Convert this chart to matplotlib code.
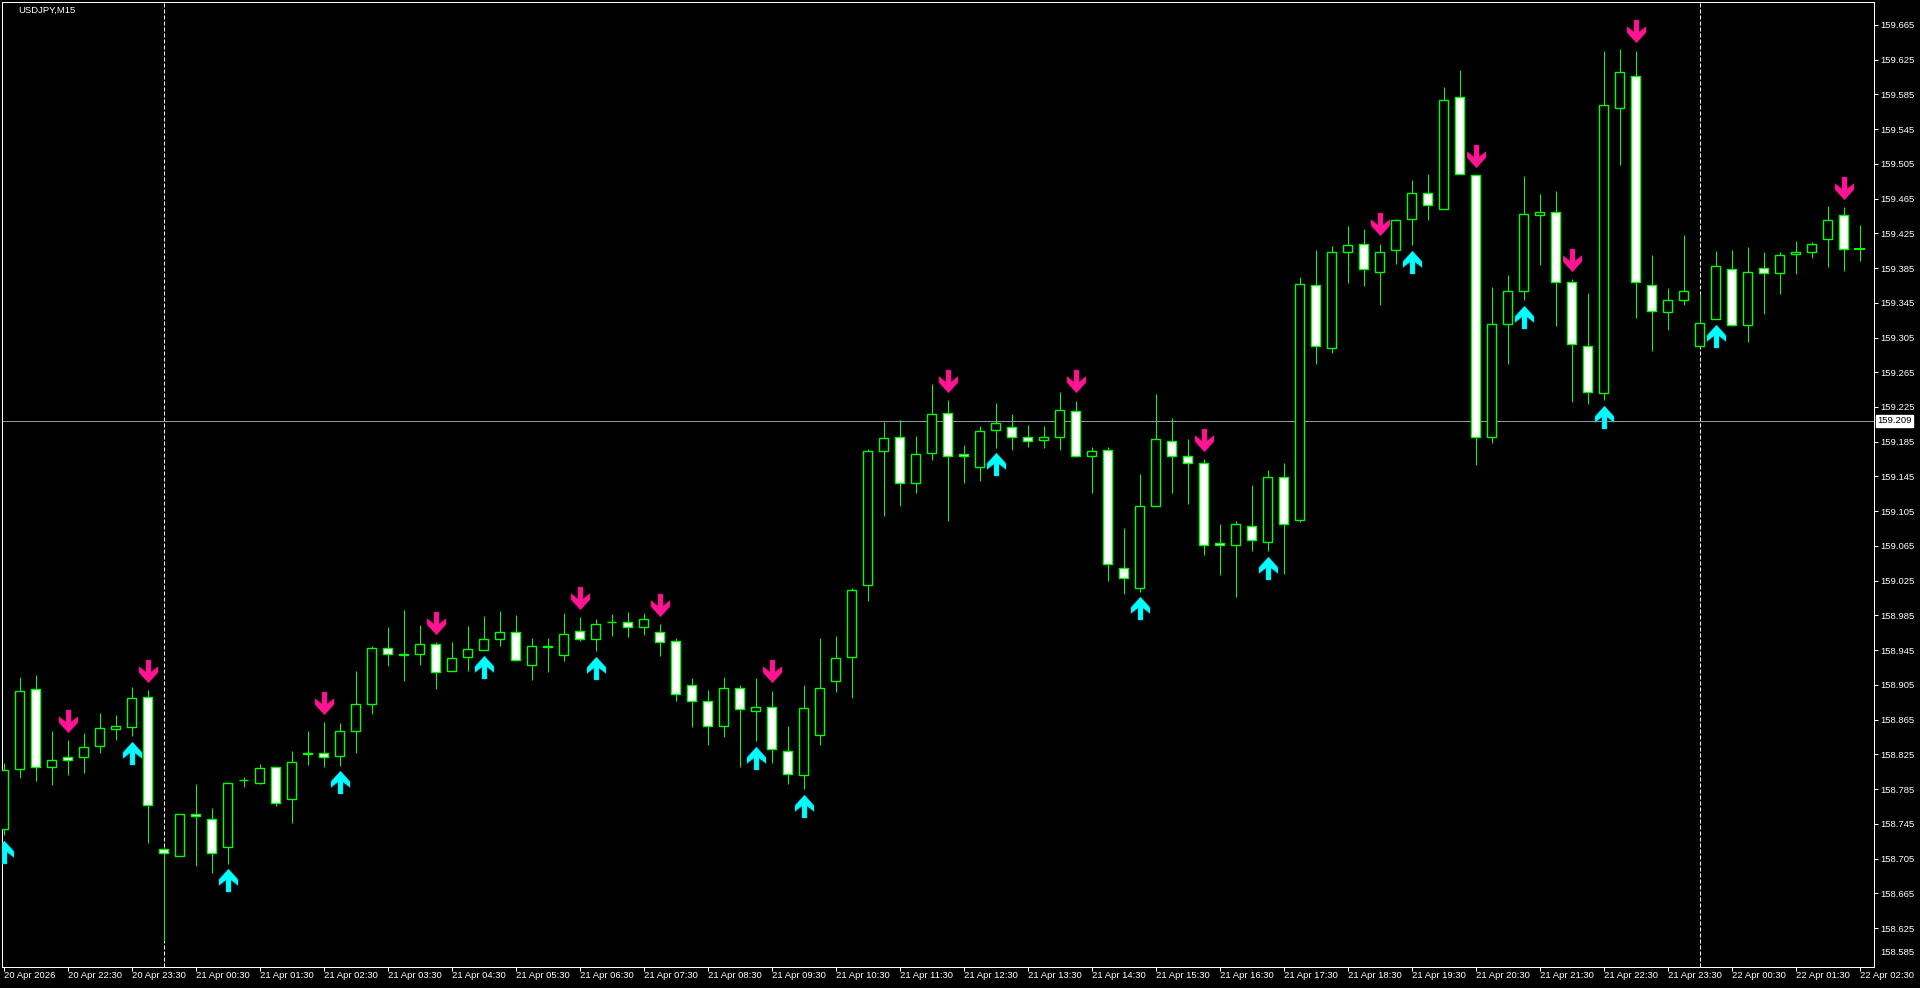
import numpy as np
import pandas as pd
import matplotlib
matplotlib.use("Agg")
import matplotlib.pyplot as plt
from matplotlib.path import Path
from matplotlib.transforms import offset_copy

plt.rcParams["font.family"] = ["Liberation Sans", "DejaVu Sans"]

# USDJPY M15 candles, first bar 20 Apr 2026 21:30
start_time = "2026-04-20 21:30"

opens = [158.739, 158.808, 158.900, 158.810, 158.822, 158.822, 158.835, 158.854, 158.857, 158.891,
         158.716, 158.708, 158.756, 158.751, 158.718, 158.795, 158.792, 158.810, 158.774, 158.826,
         158.827, 158.823, 158.852, 158.883, 158.948, 158.940, 158.941, 158.952, 158.921, 158.937,
         158.945, 158.958, 158.966, 158.928, 158.949, 158.940, 158.967, 158.958, 158.977, 158.978,
         158.972, 158.966, 158.955, 158.905, 158.887, 158.858, 158.902, 158.875, 158.879, 158.829,
         158.801, 158.847, 158.910, 158.937, 159.020, 159.174, 159.191, 159.138, 159.172, 159.218,
         159.171, 159.156, 159.198, 159.202, 159.191, 159.187, 159.190, 159.220, 159.169, 159.176,
         159.040, 159.017, 159.111, 159.186, 159.168, 159.161, 159.068, 159.066, 159.088, 159.070,
         159.144, 159.095, 159.366, 159.293, 159.403, 159.413, 159.380, 159.406, 159.441, 159.471,
         159.453, 159.582, 159.492, 159.190, 159.321, 159.359, 159.446, 159.449, 159.369, 159.295,
         159.241, 159.569, 159.606, 159.365, 159.334, 159.348, 159.295, 159.326, 159.384, 159.319,
         159.385, 159.379, 159.401, 159.404, 159.418, 159.446, 159.407]
highs = [158.815, 158.914, 158.916, 158.852, 158.841, 158.850, 158.873, 158.870, 158.903, 158.899,
         158.717, 158.756, 158.791, 158.763, 158.793, 158.799, 158.814, 158.811, 158.829, 158.852,
         158.862, 158.861, 158.921, 158.950, 158.972, 158.991, 158.974, 158.954, 158.954, 158.973,
         158.984, 158.990, 158.985, 158.959, 158.959, 158.988, 158.983, 158.981, 158.987, 158.989,
         158.988, 158.975, 158.959, 158.913, 158.899, 158.914, 158.905, 158.913, 158.898, 158.858,
         158.905, 158.959, 158.961, 159.017, 159.177, 159.208, 159.210, 159.192, 159.251, 159.233,
         159.181, 159.203, 159.230, 159.217, 159.204, 159.203, 159.242, 159.232, 159.179, 159.179,
         159.086, 159.148, 159.240, 159.212, 159.188, 159.165, 159.090, 159.094, 159.135, 159.153,
         159.161, 159.375, 159.406, 159.410, 159.433, 159.430, 159.413, 159.442, 159.486, 159.493,
         159.594, 159.613, 159.492, 159.363, 159.377, 159.491, 159.470, 159.474, 159.372, 159.356,
         159.635, 159.637, 159.635, 159.400, 159.362, 159.423, 159.355, 159.405, 159.406, 159.409,
         159.403, 159.403, 159.416, 159.415, 159.456, 159.455, 159.435]
lows = [158.732, 158.798, 158.794, 158.790, 158.801, 158.804, 158.827, 158.841, 158.846, 158.723,
        158.610, 158.708, 158.697, 158.688, 158.699, 158.788, 158.791, 158.765, 158.746, 158.813,
        158.810, 158.812, 158.827, 158.872, 158.927, 158.909, 158.928, 158.900, 158.921, 158.921,
        158.945, 158.950, 158.933, 158.911, 158.920, 158.933, 158.956, 158.944, 158.961, 158.960,
        158.962, 158.938, 158.886, 158.857, 158.836, 158.845, 158.810, 158.840, 158.815, 158.791,
        158.785, 158.836, 158.897, 158.890, 159.002, 159.100, 159.111, 159.126, 159.164, 159.094,
        159.138, 159.140, 159.178, 159.176, 159.179, 159.178, 159.176, 159.167, 159.126, 159.025,
        159.010, 159.012, 159.111, 159.126, 159.113, 159.055, 159.032, 159.006, 159.059, 159.059,
        159.033, 159.093, 159.275, 159.287, 159.368, 159.364, 159.343, 159.390, 159.411, 159.440,
        159.453, 159.493, 159.158, 159.184, 159.274, 159.348, 159.389, 159.318, 159.231, 159.229,
        159.233, 159.504, 159.328, 159.289, 159.314, 159.342, 159.295, 159.326, 159.318, 159.300,
        159.332, 159.355, 159.378, 159.397, 159.386, 159.382, 159.393]
closes = [158.807, 158.898, 158.811, 158.818, 158.818, 158.833, 158.855, 158.858, 158.890, 158.767,
          158.711, 158.756, 158.754, 158.712, 158.792, 158.796, 158.809, 158.769, 158.816, 158.827,
          158.822, 158.852, 158.883, 158.947, 158.941, 158.941, 158.952, 158.920, 158.936, 158.946,
          158.958, 158.966, 158.934, 158.950, 158.950, 158.964, 158.958, 158.975, 158.978, 158.972,
          158.981, 158.954, 158.895, 158.887, 158.858, 158.902, 158.877, 158.880, 158.831, 158.802,
          158.878, 158.901, 158.936, 159.014, 159.174, 159.189, 159.138, 159.171, 159.217, 159.169,
          159.168, 159.197, 159.206, 159.191, 159.186, 159.190, 159.221, 159.168, 159.174, 159.044,
          159.028, 159.111, 159.188, 159.168, 159.161, 159.066, 159.066, 159.090, 159.072, 159.144,
          159.090, 159.367, 159.295, 159.403, 159.411, 159.384, 159.404, 159.440, 159.471, 159.457,
          159.578, 159.493, 159.190, 159.321, 159.359, 159.447, 159.449, 159.369, 159.297, 159.242,
          159.573, 159.611, 159.369, 159.335, 159.348, 159.359, 159.322, 159.387, 159.319, 159.380,
          159.379, 159.400, 159.404, 159.413, 159.440, 159.407, 159.407]

# indicator arrows (bar indices)
up_signals = [0, 8, 14, 21, 30, 37, 47, 50, 62, 71, 79, 88, 95, 100, 107]
down_signals = [4, 9, 20, 27, 36, 41, 48, 59, 67, 75, 86, 92, 98, 102, 115]

h_line = 159.209
price_ticks = [158.625, 158.665, 158.705, 158.745, 158.785, 158.825, 158.865, 158.905,
               158.945, 158.985, 159.025, 159.065, 159.105, 159.145, 159.185, 159.225,
               159.265, 159.305, 159.345, 159.385, 159.425, 159.465, 159.505, 159.545,
               159.585, 159.625, 159.665]
bottom_label = 158.585

LIME = "#00ff00"
PX = 0.72  # one pixel in points at dpi 100

o = np.array(opens)
h = np.array(highs)
l = np.array(lows)
c = np.array(closes)
x = np.arange(len(o))
times = pd.date_range(start_time, periods=len(o), freq="15min")

fig = plt.figure(figsize=(19.2, 9.88), dpi=100, facecolor="black")
ax = fig.add_axes([2 / 1920, 21 / 988, 1872 / 1920, 965 / 988], facecolor="black")
ax.set_xlim(-0.1, 116.9)
ax.set_ylim(158.5802, 159.6913)

# day separators
for i in x[(times.hour == 0) & (times.minute == 0)]:
    ax.axvline(i, color="white", lw=PX, ls=(0, (4, 2)), zorder=1)

ax.axhline(h_line, color="#8e96a2", lw=PX, zorder=1)

# candles
ax.vlines(x, l, h, color=LIME, lw=PX, zorder=2)
bull = c > o
bear = c < o
doji = c == o
ax.bar(x[bull], (c - o)[bull], bottom=o[bull], width=0.6, color="black",
       edgecolor=LIME, linewidth=1.4 * PX, zorder=3)
ax.bar(x[bear], (o - c)[bear], bottom=c[bear], width=0.6, color="white",
       edgecolor=LIME, linewidth=1.4 * PX, zorder=3)
ax.hlines(c[doji], x[doji] - 0.33, x[doji] + 0.33, color=LIME, lw=2 * PX, zorder=3)

# arrow markers
down_verts = [(-2.5, 11.5), (2.5, 11.5), (2.5, -0.5), (9.5, 5.0), (9.5, -1.0),
              (0, -11.5), (-9.5, -1.0), (-9.5, 5.0), (-2.5, -0.5), (-2.5, 11.5)]
down_arrow = Path(down_verts, closed=True)
up_arrow = Path([(vx, -vy) for vx, vy in down_verts], closed=True)

tr_down = offset_copy(ax.transData, fig=fig, x=0, y=19.5, units="dots")
tr_up = offset_copy(ax.transData, fig=fig, x=0, y=-16.5, units="dots")
ax.plot(x[down_signals], h[down_signals], ls="none", marker=down_arrow,
        ms=23 * PX, mfc="#ff1493", mec="#c01070", mew=0.3, transform=tr_down, zorder=4)
ax.plot(x[up_signals], l[up_signals], ls="none", marker=up_arrow,
        ms=23 * PX, mfc="#00ffff", mec="#10b0d0", mew=0.3, transform=tr_up, zorder=4)

# axes styling
for s in ax.spines.values():
    s.set_color("white")
    s.set_linewidth(PX)

ax.yaxis.tick_right()
ax.set_yticks(price_ticks)
ax.set_yticklabels([f"{v:.3f}" for v in price_ticks])
ax.tick_params(axis="y", colors="white", length=4 * PX, width=PX, pad=2.5 * PX,
               labelsize=6.8, labelcolor="white")

tick_idx = x[::4]
tick_lbl = [times[0].strftime("%d %b %Y") if i == 0 else times[i].strftime("%d %b %H:%M")
            for i in tick_idx]
ax.set_xticks(tick_idx)
ax.set_xticklabels(tick_lbl, ha="left")
ax.tick_params(axis="x", colors="white", length=4 * PX, width=PX, pad=0,
               labelsize=6.8, labelcolor="white")

# bottom price label is pushed up to stay inside the window
ax.annotate(f"{bottom_label:.3f}", xy=(1, bottom_label), xycoords=("axes fraction", "data"),
            xytext=(6.7, 10.8), textcoords="offset pixels", ha="left", va="center",
            color="white", fontsize=6.8, annotation_clip=False)

ax.annotate(f"{h_line:.3f}", xy=(1, h_line), xycoords=("axes fraction", "data"),
            xytext=(3.5, 0), textcoords="offset pixels", ha="left", va="center",
            color="black", fontsize=6.8, annotation_clip=False,
            bbox=dict(boxstyle="square,pad=0.15", fc="white", ec="white"))

fig.text(18 / 1920, 1 - 10.7 / 988, "USDJPY,M15", color="white", fontsize=6.8,
         ha="left", va="center")

fig.savefig("out.png", dpi=100, facecolor="black")
